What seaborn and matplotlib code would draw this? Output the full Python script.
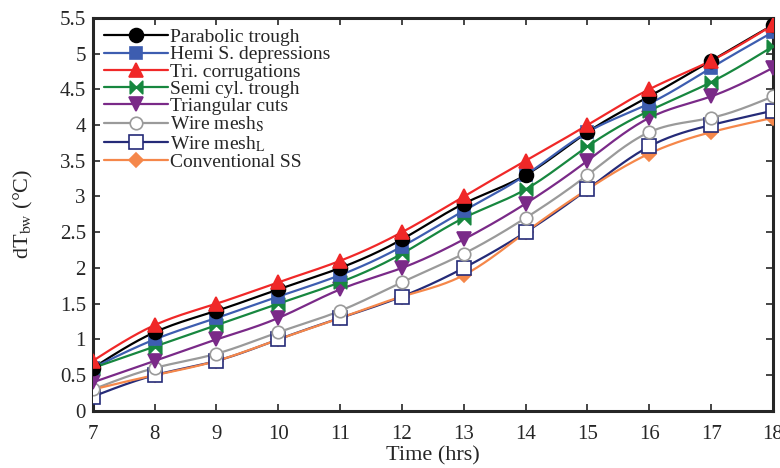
import numpy as np
import pandas as pd
import matplotlib
matplotlib.use("Agg")
import matplotlib.pyplot as plt
import seaborn as sns
from matplotlib.lines import Line2D
from matplotlib.path import Path

hours = [7, 8, 9, 10, 11, 12, 13, 14, 15, 16, 17, 18]
parabolic = [0.6, 1.1, 1.4, 1.7, 2.0, 2.4, 2.9, 3.3, 3.9, 4.4, 4.9, 5.4]
hemi = [0.6, 1.0, 1.3, 1.6, 1.9, 2.3, 2.8, 3.3, 3.9, 4.3, 4.8, 5.3]
tri = [0.7, 1.2, 1.5, 1.8, 2.1, 2.5, 3.0, 3.5, 4.0, 4.5, 4.9, 5.4]
semi = [0.6, 0.9, 1.2, 1.5, 1.8, 2.2, 2.7, 3.1, 3.7, 4.2, 4.6, 5.1]
tcuts = [0.4, 0.7, 1.0, 1.3, 1.7, 2.0, 2.4, 2.9, 3.5, 4.1, 4.4, 4.8]
wire_s = [0.3, 0.6, 0.8, 1.1, 1.4, 1.8, 2.2, 2.7, 3.3, 3.9, 4.1, 4.4]
wire_l = [0.2, 0.5, 0.7, 1.0, 1.3, 1.6, 2.0, 2.5, 3.1, 3.7, 4.0, 4.2]
conv = [0.3, 0.5, 0.7, 1.0, 1.3, 1.6, 1.9, 2.5, 3.1, 3.6, 3.9, 4.1]

labels = ["Parabolic trough", "Hemi S. depressions", "Tri. corrugations",
          "Semi cyl. trough", "Triangular cuts", r"Wire mesh$_\mathrm{S}$",
          r"Wire mesh$_\mathrm{L}$", "Conventional SS"]
series = [parabolic, hemi, tri, semi, tcuts, wire_s, wire_l, conv]
colors = ["#000000", "#3D5DB0", "#F02828", "#17873F", "#7A2A88", "#9A9A9A", "#252B78", "#F5874A"]

bowtie = Path([(-1, 1), (0, 0), (1, 1), (1, -1), (0, 0), (-1, -1), (-1, 1)],
              [Path.MOVETO, Path.LINETO, Path.LINETO, Path.LINETO, Path.LINETO,
               Path.LINETO, Path.CLOSEPOLY])
markers = ["o", "s", "^", bowtie, "v", "o", "s", "D"]
mfc = ["#000000", "#3D5DB0", "#F02828", "#17873F", "#7A2A88", "white", "white", "#F5874A"]
msizes = [10, 9, 10, 9, 10, 9, 10, 7]


def natural_spline(x, y, n=300):
    x = np.asarray(x, float); y = np.asarray(y, float)
    k = len(x); h = np.diff(x)
    A = np.zeros((k, k)); b = np.zeros(k)
    A[0, 0] = A[-1, -1] = 1
    for i in range(1, k - 1):
        A[i, i - 1] = h[i - 1]; A[i, i] = 2 * (h[i - 1] + h[i]); A[i, i + 1] = h[i]
        b[i] = 6 * ((y[i + 1] - y[i]) / h[i] - (y[i] - y[i - 1]) / h[i - 1])
    M = np.linalg.solve(A, b)
    xs = np.linspace(x[0], x[-1], n)
    idx = np.clip(np.searchsorted(x, xs) - 1, 0, k - 2)
    x0, x1 = x[idx], x[idx + 1]; hh = x1 - x0
    ys = (M[idx] * (x1 - xs) ** 3 / (6 * hh) + M[idx + 1] * (xs - x0) ** 3 / (6 * hh)
          + (y[idx] / hh - M[idx] * hh / 6) * (x1 - xs)
          + (y[idx + 1] / hh - M[idx + 1] * hh / 6) * (xs - x0))
    return xs, ys


sns.set_style("ticks")
plt.rcParams["font.family"] = ["Liberation Serif", "DejaVu Serif"]
plt.rcParams["mathtext.fontset"] = "stix"

fig = plt.figure(figsize=(7.8, 4.68), dpi=100)
ax = fig.add_axes([0.119, 0.122, 0.872, 0.840])

order = [7, 6, 5, 4, 3, 1, 0, 2]
for i in range(len(series)):
    xs, ys = natural_spline(hours, series[i])
    sns.lineplot(x=xs, y=ys, ax=ax, color=colors[i], lw=1.6, zorder=2 + i * 0.1, sort=False)
for i in order:
    df = pd.DataFrame({"h": hours, "v": series[i]})
    ax.plot(df["h"], df["v"], ls="none", marker=markers[i], ms=msizes[i],
            mfc=mfc[i], mec=colors[i], mew=1.2, zorder=4)
handles = [Line2D([], [], color=colors[i], lw=1.6, marker=markers[i],
                  ms=msizes[i], mfc=mfc[i], mec=colors[i], mew=1.2)
           for i in range(len(series))]

ax.legend(handles, labels, loc="upper left", frameon=False, fontsize=14,
          handlelength=3.3, handletextpad=0.1, labelspacing=-0.02,
          borderaxespad=0.15, bbox_to_anchor=(0.0, 1.0))

ax.set_xlim(7, 18)
ax.set_ylim(0, 5.5)
ax.set_xticks(range(7, 19))
ax.set_yticks(np.arange(0, 5.51, 0.5))
ax.set_yticklabels([("%g" % v) for v in np.arange(0, 5.51, 0.5)])
ax.tick_params(direction="in", top=True, right=True, labelsize=15, length=5, width=1.2)
ax.tick_params(axis="x", pad=10)
ax.tick_params(axis="y", pad=5)
for s in ax.spines.values():
    s.set_linewidth(2.2)
ax.set_xlabel("Time (hrs)", fontsize=16, labelpad=2)
ax.set_ylabel(r"dT$_\mathrm{bw}$ (°C)", fontsize=16, labelpad=18)

fig.savefig("out.png", dpi=100)
